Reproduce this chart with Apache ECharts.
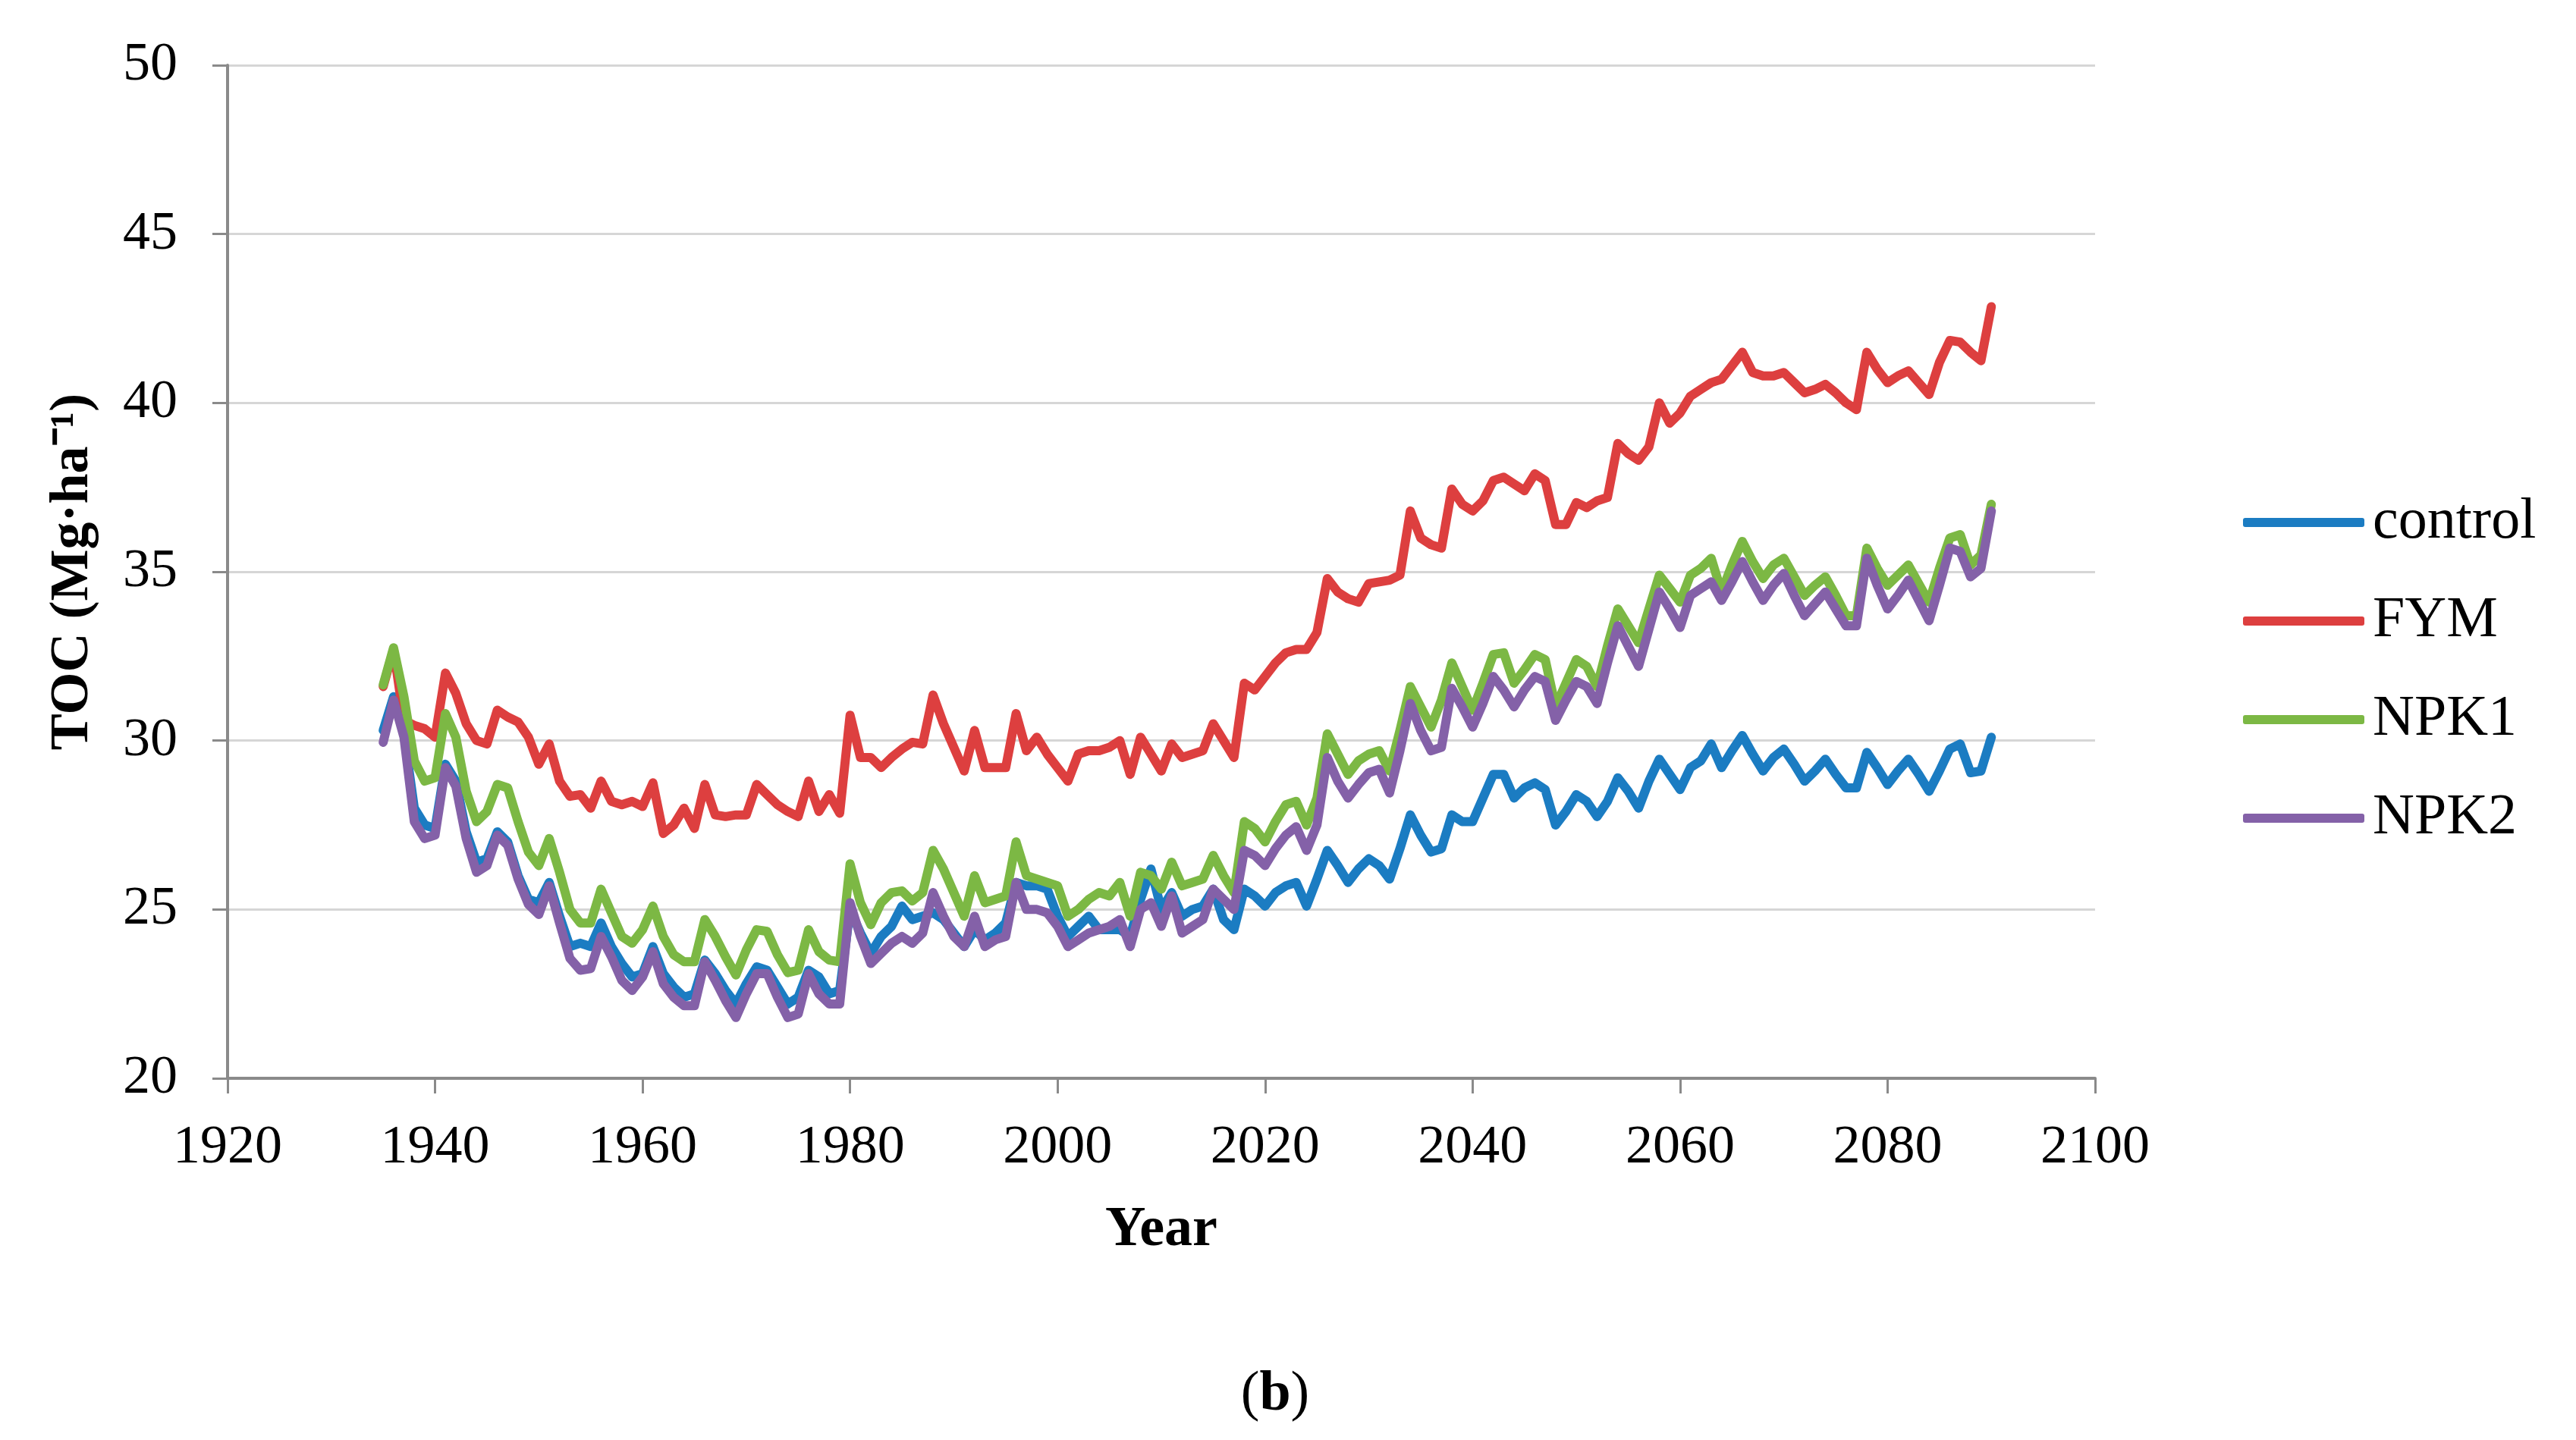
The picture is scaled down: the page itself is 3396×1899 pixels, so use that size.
<!DOCTYPE html>
<html>
<head>
<meta charset="utf-8">
<script src="https://cdn.jsdelivr.net/npm/echarts@6/dist/echarts.min.js"></script>
<style>
html,body{margin:0;padding:0;background:#ffffff;}
#chart{width:3396px;height:1899px;}
</style>
</head>
<body>
<div id="chart"></div>
<script>
// ---- data ----
const startYear = 1935;
const seriesNames = ['control', 'FYM', 'NPK1', 'NPK2'];
const xTicks = [1920, 1940, 1960, 1980, 2000, 2020, 2040, 2060, 2080, 2100];
const yTicks = [20, 25, 30, 35, 40, 45, 50];

const control = [
  30.3, 31.3, 30.2, 28.0, 27.5, 27.4, 29.3, 28.8, 27.3, 26.4,
  26.5, 27.3, 27.0, 26.0, 25.3, 25.2, 25.8, 24.8, 23.9, 24.0,
  23.9, 24.6, 23.9, 23.4, 23.0, 23.1, 23.9, 23.1, 22.7, 22.4,
  22.5, 23.5, 23.1, 22.6, 22.2, 22.8, 23.3, 23.2, 22.7, 22.2,
  22.4, 23.2, 23.0, 22.5, 22.6, 25.0, 24.3, 23.7, 24.2, 24.5,
  25.1, 24.7, 24.8, 24.9, 24.7, 24.3, 23.9, 24.4, 24.1, 24.3,
  24.6, 25.8, 25.7, 25.7, 25.6, 24.8, 24.2, 24.5, 24.8, 24.4,
  24.4, 24.4, 24.2, 25.3, 26.2, 25.0, 25.5, 24.8, 25.0, 25.1,
  25.6, 24.7, 24.4, 25.6, 25.4, 25.1, 25.5, 25.7, 25.8, 25.1,
  25.9, 26.75, 26.3, 25.8, 26.2, 26.5, 26.3, 25.9, 26.8, 27.8,
  27.2, 26.7, 26.8, 27.8, 27.6, 27.6, 28.3, 29.0, 29.0, 28.3,
  28.6, 28.75, 28.55, 27.5, 27.9, 28.4, 28.2, 27.75, 28.2, 28.9,
  28.5, 28.0, 28.8, 29.45, 29.0, 28.55, 29.2, 29.4, 29.9, 29.2,
  29.7, 30.15, 29.6, 29.1, 29.5, 29.75, 29.3, 28.8, 29.1, 29.45,
  29.0, 28.6, 28.6, 29.65, 29.2, 28.7, 29.1, 29.45, 29.0, 28.5,
  29.1, 29.75, 29.9, 29.05, 29.1, 30.1
];

const fym = [
  31.6, 32.7, 30.6, 30.45, 30.35, 30.1, 32.0, 31.4, 30.5, 30.0,
  29.9, 30.9, 30.7, 30.55, 30.1, 29.3, 29.9, 28.8, 28.35, 28.4,
  28.0, 28.8, 28.2, 28.1, 28.2, 28.05, 28.75, 27.25, 27.5, 28.0,
  27.4, 28.7, 27.8, 27.75, 27.8, 27.8, 28.7, 28.4, 28.1, 27.9,
  27.75, 28.8, 27.9, 28.4, 27.85, 30.75, 29.5, 29.5, 29.2, 29.5,
  29.75, 29.95, 29.9, 31.35, 30.5, 29.8, 29.1, 30.3, 29.2, 29.2,
  29.2, 30.8, 29.7, 30.1, 29.6, 29.2, 28.8, 29.6, 29.7, 29.7,
  29.8, 30.0, 29.0, 30.1, 29.6, 29.1, 29.9, 29.5, 29.6, 29.7,
  30.5, 30.0, 29.5, 31.7, 31.5, 31.9, 32.3, 32.6, 32.7, 32.7,
  33.2, 34.8, 34.4, 34.2, 34.1, 34.65, 34.7, 34.75, 34.9, 36.8,
  36.0, 35.8, 35.7, 37.45, 37.0, 36.8, 37.1, 37.7, 37.8, 37.6,
  37.4, 37.9, 37.7, 36.4, 36.4, 37.05, 36.9, 37.1, 37.2, 38.8,
  38.5, 38.3, 38.7, 40.0, 39.4, 39.7, 40.2, 40.4, 40.6, 40.7,
  41.1, 41.5, 40.9, 40.8, 40.8, 40.9, 40.6, 40.3, 40.4, 40.55,
  40.3, 40.0, 39.8, 41.5, 41.0, 40.6, 40.8, 40.95, 40.6, 40.25,
  41.2, 41.85, 41.8, 41.5, 41.25, 42.85
];

const npk1 = [
  31.65, 32.75, 31.3, 29.4, 28.8, 28.9, 30.8, 30.1, 28.5, 27.6,
  27.9, 28.7, 28.6, 27.6, 26.7, 26.3, 27.1, 26.1, 25.0, 24.6,
  24.6, 25.6, 24.9, 24.2, 24.0, 24.4, 25.1, 24.2, 23.66, 23.45,
  23.45, 24.7, 24.2, 23.6, 23.06, 23.8, 24.4, 24.35, 23.66, 23.13,
  23.2, 24.4, 23.75, 23.5, 23.45, 26.35, 25.2, 24.55, 25.2, 25.5,
  25.55, 25.25, 25.5, 26.75, 26.2, 25.5, 24.8, 26.0, 25.2, 25.3,
  25.4, 27.0, 26.0, 25.9, 25.8, 25.7, 24.8, 25.0, 25.3, 25.5,
  25.4, 25.8, 24.8, 26.1, 26.0, 25.6, 26.4, 25.7, 25.8, 25.9,
  26.6, 26.0, 25.5, 27.6, 27.4, 27.0, 27.6, 28.1, 28.2, 27.5,
  28.3, 30.2, 29.6, 29.0, 29.4, 29.6, 29.7, 29.1, 30.3, 31.6,
  31.0, 30.4, 31.2, 32.3, 31.6, 30.9, 31.7, 32.55, 32.6, 31.7,
  32.1, 32.55, 32.4, 31.0, 31.7, 32.4, 32.2, 31.6, 32.8, 33.9,
  33.4, 32.9, 33.9, 34.9, 34.5, 34.1, 34.9, 35.1, 35.4, 34.4,
  35.2, 35.9, 35.3, 34.8, 35.2, 35.4, 34.85, 34.3, 34.6, 34.85,
  34.3, 33.7, 33.7, 35.7, 35.1, 34.6, 34.9, 35.2, 34.65, 34.1,
  35.1, 36.0, 36.1, 35.2, 35.5, 37.0
];

const npk2 = [
  29.95, 31.2, 30.1, 27.6, 27.1, 27.2, 29.2, 28.65, 27.1, 26.1,
  26.3, 27.2, 26.9, 25.9, 25.15, 24.85, 25.7, 24.6, 23.55, 23.2,
  23.25, 24.2, 23.6, 22.9, 22.6, 23.0, 23.75, 22.8, 22.4, 22.15,
  22.15, 23.45, 22.9, 22.3, 21.8, 22.5, 23.1, 23.1, 22.4, 21.8,
  21.9, 23.1, 22.5, 22.2, 22.2, 25.2, 24.2, 23.4, 23.7, 24.0,
  24.2, 24.0, 24.3, 25.5, 24.8, 24.2, 23.9, 24.8, 23.9, 24.1,
  24.2, 25.8, 25.0, 25.0, 24.9, 24.5, 23.9, 24.1, 24.3, 24.4,
  24.5, 24.7, 23.9, 25.0, 25.2, 24.5, 25.4, 24.3, 24.5, 24.7,
  25.6, 25.3, 25.0, 26.75, 26.6, 26.3, 26.8, 27.2, 27.45, 26.75,
  27.5, 29.5, 28.8, 28.3, 28.7, 29.05, 29.15, 28.45, 29.7, 31.1,
  30.3, 29.7, 29.8, 31.55, 31.0, 30.4, 31.1, 31.9, 31.5, 31.0,
  31.5, 31.9, 31.75, 30.6, 31.2, 31.75, 31.6, 31.1, 32.3, 33.4,
  32.8, 32.2, 33.3, 34.4, 33.9, 33.35, 34.3, 34.5, 34.7, 34.15,
  34.7, 35.3, 34.7, 34.15, 34.6, 34.95, 34.3, 33.7, 34.05, 34.4,
  33.9, 33.4, 33.4, 35.4, 34.6, 33.9, 34.3, 34.75, 34.15, 33.55,
  34.6, 35.7, 35.6, 34.85, 35.1, 36.8
];

const years = control.map((_, i) => startYear + i);
const colors = ['#1b7cc2', '#dd3f3f', '#7cb844', '#8461a8'];
const valueSets = [control, fym, npk1, npk2];

// ---- chart ----
const FONT = '"Liberation Serif", "Times New Roman", serif';
const AXIS_GREY = '#8a8a8a';
const chart = echarts.init(document.getElementById('chart'), null, {renderer: 'canvas'});

const series = seriesNames.map((name, k) => ({
  name: name,
  type: 'line',
  data: years.map((y, i) => [y, valueSets[k][i]]),
  showSymbol: false,
  symbol: 'none',
  smooth: false,
  animation: false,
  lineStyle: {color: colors[k], width: 12, cap: 'round', join: 'round'},
  itemStyle: {color: colors[k]},
  z: 2 + k
}));

chart.setOption({
  backgroundColor: '#ffffff',
  animation: false,
  color: colors,
  grid: {left: 300, top: 86, right: 634, bottom: 477, containLabel: false},
  xAxis: {
    type: 'value',
    min: xTicks[0],
    max: xTicks[xTicks.length - 1],
    interval: 20,
    name: 'Year',
    nameLocation: 'middle',
    nameGap: 164,
    nameTextStyle: {fontFamily: FONT, fontSize: 74, fontWeight: 'bold', color: '#000'},
    axisLine: {show: true, onZero: false, lineStyle: {color: AXIS_GREY, width: 4}},
    axisTick: {show: true, length: 20, lineStyle: {color: AXIS_GREY, width: 3}},
    axisLabel: {fontFamily: FONT, fontSize: 72, color: '#000', margin: 56,
                formatter: function (v) { return String(v); }},
    splitLine: {show: false}
  },
  yAxis: {
    type: 'value',
    min: yTicks[0],
    max: yTicks[yTicks.length - 1],
    interval: 5,
    name: 'TOC (Mg·ha⁻¹)',
    nameLocation: 'middle',
    nameGap: 168,
    nameRotate: 90,
    nameTextStyle: {fontFamily: FONT, fontSize: 72, fontWeight: 'bold', color: '#000'},
    axisLine: {show: true, onZero: false, lineStyle: {color: AXIS_GREY, width: 4}},
    axisTick: {show: true, length: 20, lineStyle: {color: AXIS_GREY, width: 3}},
    axisLabel: {fontFamily: FONT, fontSize: 72, color: '#000', margin: 66,
                formatter: function (v) { return String(v); }},
    splitLine: {show: true, lineStyle: {color: '#d6d6d6', width: 3}}
  },
  legend: {
    orient: 'vertical',
    left: 2952,
    top: 646,
    itemWidth: 160,
    itemHeight: 12,
    itemGap: 54,
    icon: 'roundRect',
    data: seriesNames,
    textStyle: {fontFamily: FONT, fontSize: 76, color: '#000', padding: [0, 0, 0, 6]}
  },
  graphic: [{
    type: 'text',
    x: 1681,
    y: 1840,
    style: {
      text: '{p|(}{b|b}{p|)}',
      textAlign: 'center',
      textVerticalAlign: 'middle',
      rich: {
        p: {fontFamily: FONT, fontSize: 74, color: '#000'},
        b: {fontFamily: FONT, fontSize: 74, fontWeight: 'bold', color: '#000'}
      }
    }
  }],
  series: series
});
</script>
</body>
</html>
